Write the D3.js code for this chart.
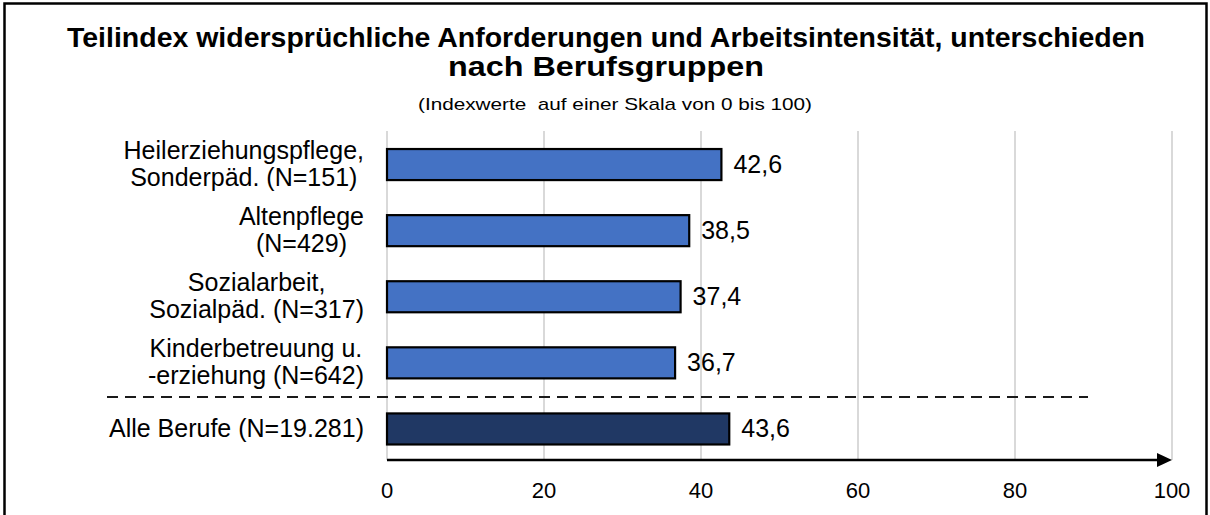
<!DOCTYPE html>
<html>
<head>
<meta charset="utf-8">
<script src="https://cdn.jsdelivr.net/npm/d3@7"></script>
<style>
  body { margin: 0; background: #fff; }
  svg { display: block; font-family: "Liberation Sans", Arial, sans-serif; }
</style>
</head>
<body>
<div id="chart"></div>
<script>
var titleLines = ["Teilindex widersprüchliche Anforderungen und Arbeitsintensität, unterschieden",
                  "nach Berufsgruppen"];
var titleWidths = [1078, 316];
var subtitle = "(Indexwerte  auf einer Skala von 0 bis 100)";

var categories = [
  ["Heilerziehungspflege,", "Sonderpäd. (N=151)"],
  ["Altenpflege", "(N=429)"],
  ["Sozialarbeit,", "Sozialpäd. (N=317)"],
  ["Kinderbetreuung u.", "-erziehung (N=642)"],
  ["Alle Berufe (N=19.281)"]
];
var values = [42.6, 38.5, 37.4, 36.7, 43.6];
var barColors = ["#4472c4", "#4472c4", "#4472c4", "#4472c4", "#203864"];
var tickValues = [0, 20, 40, 60, 80, 100];

var W = 1210, H = 515;
var fmt = d3.formatLocale({decimal: ",", thousands: "."}).format(".1f");

var svg = d3.select("#chart").append("svg")
    .attr("width", W).attr("height", H);

// frame
svg.append("path")
    .attr("d", "M4.5,515 V3.5 H1206.5 V515")
    .attr("fill", "none").attr("stroke", "#000").attr("stroke-width", 2.5);

var x = d3.scaleLinear().domain([0, 100]).range([387, 1172]);
var y = d3.scaleBand().domain(d3.range(categories.length))
    .range([131.5, 462]).paddingInner(0.5).paddingOuter(0.25);

var axisY = 460;

// title (reference type is condensed, so stretch to its width)
svg.append("g").selectAll("text").data(titleLines).enter().append("text")
    .attr("x", 606).attr("y", function(d, i) { return 47 + i * 29; })
    .attr("text-anchor", "middle")
    .attr("textLength", function(d, i) { return titleWidths[i]; })
    .attr("lengthAdjust", "spacingAndGlyphs")
    .style("font-weight", "bold").style("font-size", "28px")
    .text(function(d) { return d; });

svg.append("text")
    .attr("x", 615).attr("y", 110)
    .attr("text-anchor", "middle")
    .attr("textLength", 394).attr("lengthAdjust", "spacingAndGlyphs")
    .style("font-size", "17px").style("white-space", "pre")
    .text(subtitle);

// gridlines
svg.append("g").selectAll("line").data(tickValues).enter().append("line")
    .attr("x1", function(d) { return x(d); }).attr("x2", function(d) { return x(d); })
    .attr("y1", 131).attr("y2", axisY)
    .attr("stroke", "#d9d9d9").attr("stroke-width", 2);

// bars
svg.append("g").selectAll("rect").data(values).enter().append("rect")
    .attr("x", x(0))
    .attr("y", function(d, i) { return y(i) + 1; })
    .attr("width", function(d) { return x(d) - x(0); })
    .attr("height", y.bandwidth() - 2)
    .attr("fill", function(d, i) { return barColors[i]; })
    .attr("stroke", "#000").attr("stroke-width", 2.2);

// value labels
svg.append("g").selectAll("text").data(values).enter().append("text")
    .attr("x", function(d) { return x(d) + 12; })
    .attr("y", function(d, i) { return y(i) + y.bandwidth() / 2 + 8.5; })
    .style("font-size", "25px")
    .text(function(d) { return fmt(d); });

// category labels, lines centred within a right-aligned block
var labelRight = 364;
categories.forEach(function(lines, i) {
  var cy = y(i) + y.bandwidth() / 2;
  var g = svg.append("g");
  var t = g.selectAll("text").data(lines).enter().append("text")
      .attr("text-anchor", "middle")
      .style("font-size", "25px")
      .attr("y", function(d, j) {
        return lines.length == 1 ? cy + 8.5 : cy - 6 + j * 27;
      })
      .text(function(d) { return d; });
  var maxW = d3.max(t.nodes(), function(n) { return n.getComputedTextLength(); });
  t.attr("x", labelRight - maxW / 2);
});

// dashed separator
var sepY = (y(3) + y.bandwidth() + y(4)) / 2 + 1;
svg.append("line")
    .attr("x1", 107).attr("x2", 1088)
    .attr("y1", sepY).attr("y2", sepY)
    .attr("stroke", "#1a1a1a").attr("stroke-width", 2)
    .attr("stroke-dasharray", "11,7");

// x axis with arrow
svg.append("line")
    .attr("x1", x(0)).attr("x2", x(100) - 12)
    .attr("y1", axisY).attr("y2", axisY)
    .attr("stroke", "#000").attr("stroke-width", 2.5);
svg.append("path")
    .attr("d", "M" + (x(100) - 15) + "," + (axisY - 7) + " L" + x(100) + "," + axisY +
               " L" + (x(100) - 15) + "," + (axisY + 7) + " Z")
    .attr("fill", "#000");

svg.append("g").selectAll("text").data(tickValues).enter().append("text")
    .attr("x", function(d) { return x(d); })
    .attr("y", 498)
    .attr("text-anchor", "middle")
    .style("font-size", "22px")
    .text(function(d) { return d; });
</script>
</body>
</html>
